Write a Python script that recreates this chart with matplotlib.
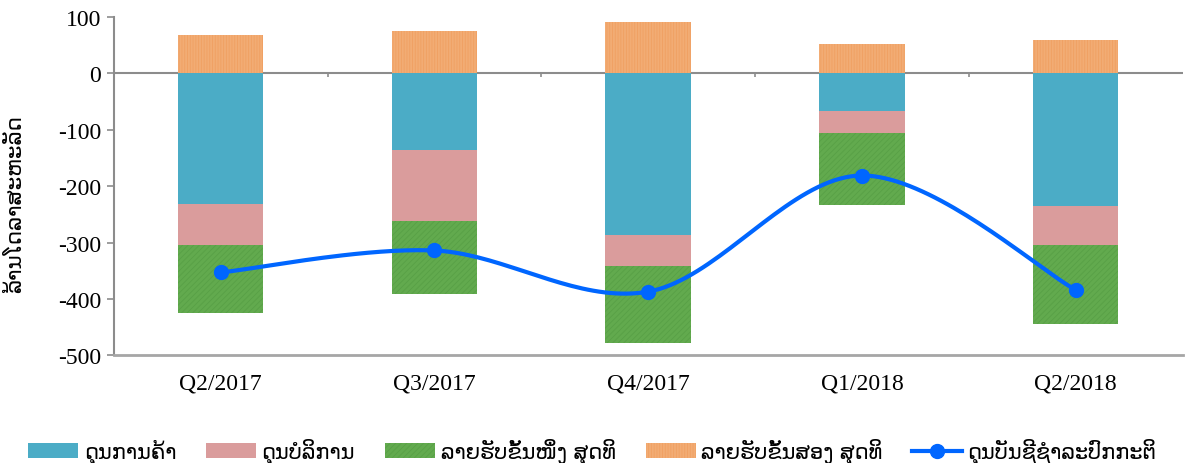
import numpy as np
import matplotlib
matplotlib.use("Agg")
import matplotlib.pyplot as plt
from matplotlib.patches import Patch
from matplotlib.lines import Line2D

plt.rcParams['hatch.linewidth'] = 0.6
plt.rcParams['axes.unicode_minus'] = False

categories = ["Q2/2017", "Q3/2017", "Q4/2017", "Q1/2018", "Q2/2018"]
trade = [-232, -135, -286, -67, -235]
services = [-72, -126, -56, -38, -69]
primary = [-120, -130, -136, -129, -140]
secondary = [69, 76, 91, 53, 60]
current = [-353, -314, -387, -181, -384]

labels = ["ດຸນການຄ້າ", "ດຸນບໍລິການ", "ລາຍຮັບຂັ້ນໜຶ່ງ ສຸດທິ", "ລາຍຮັບຂັ້ນສອງ ສຸດທິ", "ດຸນບັນຊີຊໍາລະປົກກະຕິ"]
ylabel = "ລ້ານໂດລາສະຫະລັດ"

c_blue = "#4BACC6"
c_pink = "#DA9C9C"
c_green = "#62AA4E"
c_orange = "#F2AC74"
c_line = "#0066FF"

fig = plt.figure(figsize=(11.85, 4.64), dpi=100)
ax = fig.add_axes([0.096, 0.232, 0.902, 0.729])

x = np.arange(len(categories))
w = 0.4
t = np.array(trade, float)
s = np.array(services, float)
p = np.array(primary, float)
sec = np.array(secondary, float)

ax.bar(x, t, w, color=c_blue, zorder=2)
ax.bar(x, s, w, bottom=t, color=c_pink, zorder=2)
ax.bar(x, p, w, bottom=t + s, color=c_green, hatch="//////", edgecolor="#58A046", linewidth=0, zorder=2)
ax.bar(x, sec, w, color=c_orange, hatch="||||||", edgecolor="#F0A062", linewidth=0, zorder=2)

# smoothed line (Bezier through the points)
xs = x.astype(float)
ys = np.array(current, float)
P = np.column_stack([xs, ys])
n = len(P)
curve = []
tt = np.linspace(0, 1, 40)
for i in range(n - 1):
    p0 = P[i]
    p3 = P[i + 1]
    pm = P[i - 1] if i > 0 else P[i]
    pp = P[i + 2] if i + 2 < n else P[i + 1]
    c1 = p0 + (p3 - pm) / 6.0
    c2 = p3 - (pp - p0) / 6.0
    seg = ((1 - tt)[:, None] ** 3) * p0 + 3 * ((1 - tt)[:, None] ** 2) * tt[:, None] * c1 \
        + 3 * (1 - tt)[:, None] * (tt[:, None] ** 2) * c2 + (tt[:, None] ** 3) * p3
    curve.append(seg)
curve = np.vstack(curve)
ax.plot(curve[:, 0], curve[:, 1], color=c_line, lw=3, zorder=3, solid_capstyle="round")
ax.plot(xs, ys, "o", color=c_line, ms=10, zorder=4)

ax.set_xlim(-0.5, len(categories) - 0.5)
ax.set_ylim(-500, 100)
ax.set_yticks(np.arange(-500, 101, 100))
ax.set_xticks(x)
ax.set_xticklabels(categories)

# zero axis line with category-boundary ticks
ax.axhline(0, color="#8C8C8C", lw=1.5, zorder=1)
bounds = np.arange(len(categories) + 1) - 0.5
ax.vlines(bounds[1:-1], -6, 0, color="#8C8C8C", lw=1.2, zorder=1)

for sp in ["top", "right"]:
    ax.spines[sp].set_visible(False)
ax.spines["left"].set_color("#8C8C8C")
ax.spines["left"].set_linewidth(1.5)
ax.spines["bottom"].set_color("#A6A6A6")
ax.spines["bottom"].set_linewidth(2)
ax.tick_params(axis="x", length=0, pad=12)
ax.tick_params(axis="y", length=5, color="#8C8C8C", width=1.2, pad=4)
for lab in ax.get_xticklabels() + ax.get_yticklabels():
    lab.set_fontfamily("Liberation Serif")
    lab.set_fontsize(17)
    lab.set_color("#000000")

ax.set_ylabel(ylabel, fontsize=15.5, family=["DejaVu Sans"], labelpad=14)
ax.yaxis.set_label_coords(-0.083, 0.45)

handles = [
    Patch(facecolor=c_blue, edgecolor="none"),
    Patch(facecolor=c_pink, edgecolor="none"),
    Patch(facecolor=c_green, hatch="//////", edgecolor="#58A046", linewidth=0),
    Patch(facecolor=c_orange, hatch="||||||", edgecolor="#F0A062", linewidth=0),
    Line2D([0], [0], color=c_line, lw=3, marker="o", ms=10),
]
leg = fig.legend(handles, labels, loc="lower center", bbox_to_anchor=(0.5, -0.045), ncol=5,
                 frameon=False, prop={"family": ["DejaVu Sans"], "size": 15},
                 handlelength=2.4, handleheight=0.72, handletextpad=0.25, columnspacing=1.45)

fig.savefig("out.png", dpi=100)
